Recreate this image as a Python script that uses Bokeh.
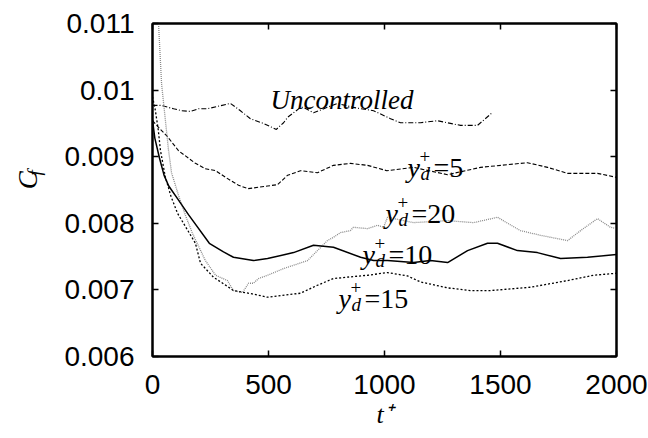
import math
from bokeh.plotting import figure
from bokeh.layouts import row
from bokeh.models import Range1d, FixedTicker, LinearAxis, Label
from bokeh.embed import file_html
from bokeh.resources import INLINE

# Skin-friction coefficient histories, C_f versus t+
t_uncontrolled = [0, 39, 69, 91, 125, 164, 198, 237, 336, 379, 422, 478, 534, 552, 565,
                  582, 638, 651, 694, 797, 866, 953, 1026, 1069, 1155, 1228, 1328, 1401, 1461]
cf_uncontrolled = [0.00977, 0.00977, 0.00974, 0.00972, 0.00969, 0.00968, 0.00972, 0.00972,
                   0.00980, 0.00969, 0.00957, 0.00950, 0.00941, 0.00947, 0.00951, 0.00959,
                   0.00974, 0.00974, 0.00966, 0.00980, 0.00974, 0.00969, 0.00957, 0.00951,
                   0.00951, 0.00954, 0.00947, 0.00947, 0.00965]

t_yd5 = [0, 26, 65, 112, 185, 228, 272, 315, 371, 412, 496, 539, 582, 638, 711, 780, 853,
         927, 1010, 1125, 1272, 1414, 1616, 1703, 1789, 1918, 2000]
cf_yd5 = [0.00954, 0.00944, 0.00930, 0.00909, 0.00890, 0.00882, 0.00879, 0.00869, 0.00857,
          0.00852, 0.00856, 0.00858, 0.00872, 0.00879, 0.00876, 0.00887, 0.00890, 0.00887,
          0.00879, 0.00884, 0.00873, 0.00884, 0.00891, 0.00884, 0.00875, 0.00875, 0.00869]

t_yd10 = [0, 10, 30, 50, 70, 110, 155, 245, 306, 349, 435, 496, 608, 694, 780, 897, 953,
          1013, 1125, 1198, 1272, 1358, 1444, 1487, 1573, 1659, 1759, 1875, 2000]
cf_yd10 = [0.00955, 0.00928, 0.00898, 0.00872, 0.00856, 0.00836, 0.00813, 0.00770, 0.00757,
           0.00749, 0.00744, 0.00747, 0.00756, 0.00767, 0.00764, 0.00749, 0.00744, 0.00744,
           0.00741, 0.00744, 0.00741, 0.00759, 0.00770, 0.00770, 0.00759, 0.00756, 0.00747,
           0.00749, 0.00753]

t_yd15 = [0, 12, 25, 34, 55, 80, 108, 185, 207, 263, 320, 349, 430, 496, 638, 711, 780,
          866, 927, 1013, 1099, 1155, 1272, 1371, 1457, 1629, 1789, 1901, 2000]
cf_yd15 = [0.00990, 0.00970, 0.00940, 0.00910, 0.00870, 0.00840, 0.00815, 0.00770, 0.00740,
           0.00719, 0.00706, 0.00699, 0.00694, 0.00689, 0.00695, 0.00707, 0.00717, 0.00720,
           0.00722, 0.00726, 0.00721, 0.00712, 0.00703, 0.00699, 0.00699, 0.00704, 0.00714,
           0.00722, 0.00725]

t_yd20 = [0, 26, 39, 69, 82, 112, 142, 172, 228, 272, 323, 349, 388, 414, 435, 457, 496,
          565, 608, 668, 711, 754, 780, 810, 853, 866, 927, 970, 996, 1013, 1125, 1272,
          1384, 1487, 1586, 1672, 1789, 1845, 1918, 1974, 2000]
cf_yd20 = [0.01210, 0.01100, 0.01010, 0.00910, 0.00876, 0.00842, 0.00812, 0.00785, 0.00744,
           0.00722, 0.00714, 0.00699, 0.00696, 0.00710, 0.00710, 0.00717, 0.00722, 0.00732,
           0.00737, 0.00744, 0.00759, 0.00774, 0.00779, 0.00786, 0.00789, 0.00794, 0.00792,
           0.00797, 0.00794, 0.00809, 0.00801, 0.00804, 0.00801, 0.00809, 0.00789, 0.00782,
           0.00774, 0.00789, 0.00807, 0.00794, 0.00792]

x_ticks = [0, 500, 1000, 1500, 2000]
x_tick_labels = ["0", "500", "1000", "1500", "2000"]
y_ticks = [0.006, 0.007, 0.008, 0.009, 0.010, 0.011]
y_tick_labels = ["0.006", "0.007", "0.008", "0.009", "0.01", "0.011"]
x_title = "t\u207a"

X0, X1 = 0, 2000
Y0, Y1 = 0.006, 0.011

# page geometry (pixels): a strip for the y title beside the plot
PAGE_W, PAGE_H = 648, 438
STRIP_W = 50
FL, FR, FT, FB = 152, 616, 23, 356   # frame edges in page pixels

p = figure(width=PAGE_W - STRIP_W, height=PAGE_H,
           x_range=Range1d(X0, X1), y_range=Range1d(Y0, Y1),
           output_backend="svg", toolbar_location=None,
           min_border_left=FL - STRIP_W, min_border_right=PAGE_W - FR,
           min_border_top=FT, min_border_bottom=PAGE_H - FB)
p.grid.visible = False
p.background_fill_color = "white"
p.border_fill_color = "white"
p.outline_line_color = "black"
p.outline_line_width = 2


def style_axis(ax, ticks, labels, show_labels):
    ax.ticker = FixedTicker(ticks=ticks)
    ax.major_label_overrides = {v: s for v, s in zip(ticks, labels)}
    ax.axis_line_color = "black"
    ax.axis_line_width = 2
    ax.major_tick_in = 6
    ax.major_tick_out = 0
    ax.major_tick_line_color = "black"
    ax.major_tick_line_width = 1.5
    ax.minor_tick_line_color = None
    ax.major_label_text_font = "Liberation Sans"
    if show_labels:
        ax.major_label_text_font_size = "28px"
        ax.major_label_text_color = "black"
    else:
        ax.major_label_text_font_size = "1px"
        ax.major_label_text_alpha = 0


style_axis(p.xaxis[0], x_ticks, x_tick_labels, True)
style_axis(p.yaxis[0], y_ticks, y_tick_labels, True)
p.xaxis[0].major_label_standoff = 18
p.yaxis[0].major_label_standoff = 18

# x title drawn by the axis itself
p.xaxis[0].axis_label = x_title
p.xaxis[0].axis_label_text_font = "Liberation Serif"
p.xaxis[0].axis_label_text_font_style = "italic"
p.xaxis[0].axis_label_text_font_size = "26px"
p.xaxis[0].axis_label_text_color = "black"
p.xaxis[0].axis_label_standoff = 3

top_axis = LinearAxis()
style_axis(top_axis, x_ticks, x_tick_labels, False)
p.add_layout(top_axis, "above")
right_axis = LinearAxis()
style_axis(right_axis, y_ticks, y_tick_labels, False)
p.add_layout(right_axis, "right")

# curves
p.line(t_uncontrolled, cf_uncontrolled, line_color="black", line_width=1.1, line_dash="5 2 1 2")
p.line(t_yd5, cf_yd5, line_color="black", line_width=1.1, line_dash="4 2")
p.line(t_yd20, cf_yd20, line_color="#8a8a8a", line_width=1.3, line_dash="1 1")
p.line(t_yd15, cf_yd15, line_color="black", line_width=1.3, line_dash="2 2")
p.line(t_yd10, cf_yd10, line_color="black", line_width=1.5)


def to_x(px):
    return X0 + (px - FL) / (FR - FL) * (X1 - X0)


def to_y(py):
    return Y1 - (py - FT) / (FB - FT) * (Y1 - Y0)


def text_on(fig, x, y, text, size, style="normal", angle=0.0):
    fig.add_layout(Label(x=x, y=y, text=text, angle=angle,
                         text_font="Liberation Serif", text_font_style=style,
                         text_font_size=size, text_color="black",
                         text_align="left", text_baseline="alphabetic"))


def plot_text(px, py, text, size, style="normal"):
    text_on(p, to_x(px), to_y(py), text, size, style)


def yd_label(px, py, number):
    plot_text(px, py, "y", "28px", "italic")
    plot_text(px + 12, py - 11, "+", "19px")
    plot_text(px + 13, py + 6, "d", "19px", "italic")
    plot_text(px + 26, py, "=" + number, "28px")


plot_text(270, 99, "Uncontrolled", "27px", "italic")
yd_label(407, 167, "5")
yd_label(385, 213, "20")
yd_label(362, 254, "10")
yd_label(338, 298, "15")

# y title: C with subscript f, reading upward, in a narrow strip left of the plot
ytitle = figure(width=STRIP_W, height=PAGE_H, x_range=Range1d(0, STRIP_W),
                y_range=Range1d(0, PAGE_H), x_axis_type=None, y_axis_type=None,
                output_backend="svg", toolbar_location=None, min_border=0)
ytitle.grid.visible = False
ytitle.outline_line_color = None
ytitle.background_fill_color = "white"
ytitle.border_fill_color = "white"
text_on(ytitle, 27, PAGE_H - 218, "C", "27px", "italic", angle=math.pi / 2)
text_on(ytitle, 34, PAGE_H - 200, "f", "19px", "italic", angle=math.pi / 2)

layout = row(ytitle, p)
open("out.html", "w").write(file_html(layout, INLINE))
